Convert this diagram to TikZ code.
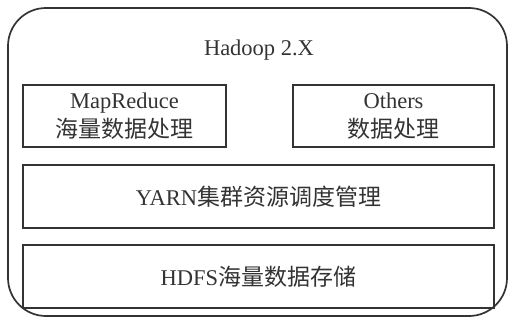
\documentclass[tikz,border=0pt]{standalone}
\usepackage{fontspec}
\setmainfont{Liberation Serif}
\newfontfamily\cjk{Noto Sans CJK SC}
\newcommand\zh[1]{{\cjk\fontsize{23}{27}\selectfont #1}}
\definecolor{ink}{HTML}{333333}
\tikzset{
  layer/.style={draw=ink, line width=1.4pt, rectangle, inner sep=0pt,
    minimum height=62pt, text=ink, align=center,
    font=\fontsize{22.5}{27}\selectfont},
  frame/.style={draw=ink, line width=1.7pt, rounded corners=38pt},
}
\begin{document}
\begin{tikzpicture}[x=1pt, y=-1pt]
\useasboundingbox (0,0) rectangle (510,320);
% outer Hadoop 2.X frame
\draw[frame] (8,8) rectangle (507,316);
\node[text=ink, font=\fontsize{22.5}{27}\selectfont] (title) at (259,50) {Hadoop 2.X};
% application layer
\node[layer, minimum width=203pt] (mr) at (124.5,116) {MapReduce\\[2pt]\zh{海量数据处理}};
\node[layer, minimum width=201pt] (oth) at (393.5,116) {Others\\[2pt]\zh{数据处理}};
% resource management layer
\node[layer, minimum width=471pt, minimum height=63pt] (yarn) at (258.5,196.5) {YARN\zh{集群资源调度管理}};
% storage layer
\node[layer, minimum width=471pt, minimum height=63pt] (hdfs) at (258.5,276.5) {HDFS\zh{海量数据存储}};
\end{tikzpicture}
\end{document}
